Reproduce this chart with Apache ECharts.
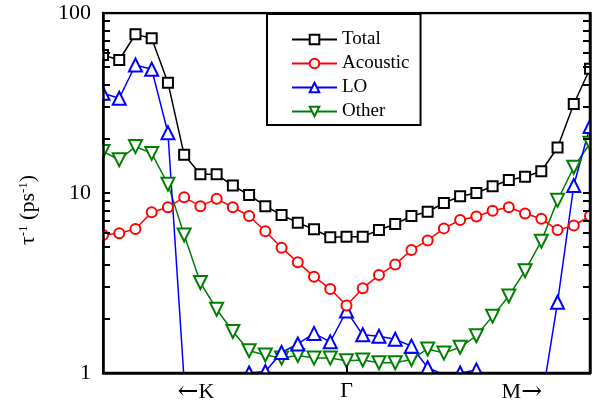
<!DOCTYPE html>
<html>
<head>
<meta charset="utf-8">
<script src="https://cdn.jsdelivr.net/npm/echarts@6/dist/echarts.min.js"></script>
<style>
  html, body { margin: 0; padding: 0; background: #fff; }
  #main { width: 600px; height: 408px; }
</style>
</head>
<body>
<div id="main"></div>
<script>
// scattering rates along K <- Gamma -> M, 31 q-points, Gamma at index 15
const qIndex = [0, 1, 2, 3, 4, 5, 6, 7, 8, 9, 10, 11, 12, 13, 14, 15,
  16, 17, 18, 19, 20, 21, 22, 23, 24, 25, 26, 27, 28, 29, 30]
const total = [58.4, 54.8, 76.2, 72.3, 41.0, 16.3, 12.7, 12.7, 11.0, 9.75, 8.45,
  7.55, 6.84, 6.29, 5.67, 5.72, 5.72, 6.23, 6.72, 7.45, 7.87,
  8.8, 9.6, 10.0, 10.9, 11.8, 12.3, 13.2, 17.9, 31.2, 49.0]
const acoustic = [5.84, 5.97, 6.31, 7.81, 8.33, 9.46, 8.45, 9.28, 8.33, 7.45, 6.13,
  4.97, 4.12, 3.43, 2.93, 2.37, 2.96, 3.5, 4.01, 4.82, 5.45,
  6.36, 7.08, 7.4, 7.97, 8.33, 7.7, 7.2, 6.22, 6.6, 7.45]
const lo = [35.8, 33.6, 51.4, 48.7, 21.6, 0.9, 0.6, 0.7, 0.85, 1.0, 1.02,
  1.3, 1.45, 1.66, 1.49, 2.21, 1.63, 1.6, 1.54, 1.41, 1.07,
  0.98, 1.0, 1.04, 0.8, 0.7, 0.6, 0.68, 2.47, 11.0, 23.4]
const other = [17.0, 15.3, 18.1, 16.6, 11.2, 5.84, 3.18, 2.26, 1.70, 1.33, 1.26,
  1.21, 1.25, 1.21, 1.21, 1.17, 1.18, 1.14, 1.14, 1.19, 1.36,
  1.29, 1.39, 1.61, 2.07, 2.68, 3.7, 5.4, 9.1, 13.9, 18.9]

const xTickPos = [5.73, 15, 25.8]
const xTickText = ['{a|←}{b|K}', '{b|Γ}', '{b|M}{a|→}']
const yMinorTicks = [1, 2, 3, 4, 5, 6, 7, 8, 9, 10, 20, 30, 40, 50, 60, 70, 80, 90, 100]

const FONT = 'Liberation Serif'

function pairs (ys) {
  return qIndex.map((x, i) => [x, ys[i]])
}

function makeSeries (name, ys, color, symbol, size, rotate) {
  return {
    name: name,
    type: 'line',
    data: pairs(ys),
    symbol: symbol,
    symbolSize: size,
    symbolRotate: rotate || 0,
    clip: true,
    lineStyle: { color: color, width: 1.5 },
    itemStyle: { color: color, borderColor: color, borderWidth: 1.5 },
  }
}

const yAxisBase = {
  type: 'log',
  logBase: 10,
  min: 1,
  max: 100,
  z: 60,
  splitLine: { show: false },
  axisLine: { show: true, lineStyle: { color: '#000', width: 2.5 } },
  axisTick: {
    show: true,
    inside: true,
    length: 7,
    customValues: yMinorTicks,
    lineStyle: { color: '#000', width: 2 },
  },
}

// white masks so symbols sitting on the frame are cut off like in the plot
function mask (x, y, w, h) {
  return { type: 'rect', z: 50, silent: true, shape: { x: x, y: y, width: w, height: h }, style: { fill: '#fff' } }
}

var myChart = echarts.init(document.getElementById('main'))

var option = {
  animation: false,
  backgroundColor: '#fff',
  grid: {
    left: 103,
    right: 10,
    top: 13,
    bottom: 35,
    show: true,
    borderColor: '#000',
    borderWidth: 2.5,
    backgroundColor: 'transparent',
  },
  legend: {
    orient: 'vertical',
    left: 267,
    top: 14,
    z: 70,
    data: ['Total', 'Acoustic', 'LO', 'Other'],
    itemWidth: 45,
    itemHeight: 12,
    itemGap: 5,
    padding: [16, 11, 4, 24],
    borderColor: '#000',
    borderWidth: 2,
    backgroundColor: '#fff',
    textStyle: { fontFamily: FONT, fontSize: 19, color: '#000' },
  },
  graphic: [
    mask(0, 374, 600, 34),
    mask(0, 0, 102, 408),
    mask(590, 0, 10, 408),
    mask(0, 0, 600, 11.7),
    {
      type: 'text',
      z: 60,
      x: 28,
      y: 210,
      rotation: Math.PI / 2,
      style: {
        text: '{b|τ}{s|-1}{b| (ps}{s|-1}{b|)}',
        align: 'center',
        verticalAlign: 'middle',
        rich: {
          b: { fontFamily: FONT, fontSize: 22, color: '#000' },
          s: { fontFamily: FONT, fontSize: 13, color: '#000', verticalAlign: 'top' },
        },
      },
    },
  ],
  xAxis: {
    type: 'value',
    min: 0,
    max: 30,
    z: 60,
    splitLine: { show: false },
    axisLine: { show: true, lineStyle: { color: '#000', width: 2.5 } },
    axisTick: {
      show: true,
      inside: true,
      length: 8,
      customValues: [15],
      lineStyle: { color: '#000', width: 2 },
    },
    axisLabel: {
      customValues: xTickPos,
      formatter: (v) => xTickText[xTickPos.indexOf(v)],
      margin: 7,
      rich: {
        a: { fontFamily: 'DejaVu Serif', fontSize: 25, color: '#000' },
        b: { fontFamily: FONT, fontSize: 22, color: '#000' },
      },
    },
  },
  yAxis: [
    Object.assign({}, yAxisBase, {
      position: 'left',
      axisLabel: { fontFamily: FONT, fontSize: 22, color: '#000', margin: 12 },
    }),
    Object.assign({}, yAxisBase, {
      position: 'right',
      axisLabel: { show: false },
    }),
  ],
  series: [
    makeSeries('Other', other, '#008000', 'emptyTriangle', 13, 180),
    makeSeries('LO', lo, '#0000ff', 'emptyTriangle', 13),
    makeSeries('Acoustic', acoustic, '#ff0000', 'emptyCircle', 10),
    makeSeries('Total', total, '#000000', 'emptyRect', 10),
  ],
}

myChart.setOption(option)
</script>
</body>
</html>
